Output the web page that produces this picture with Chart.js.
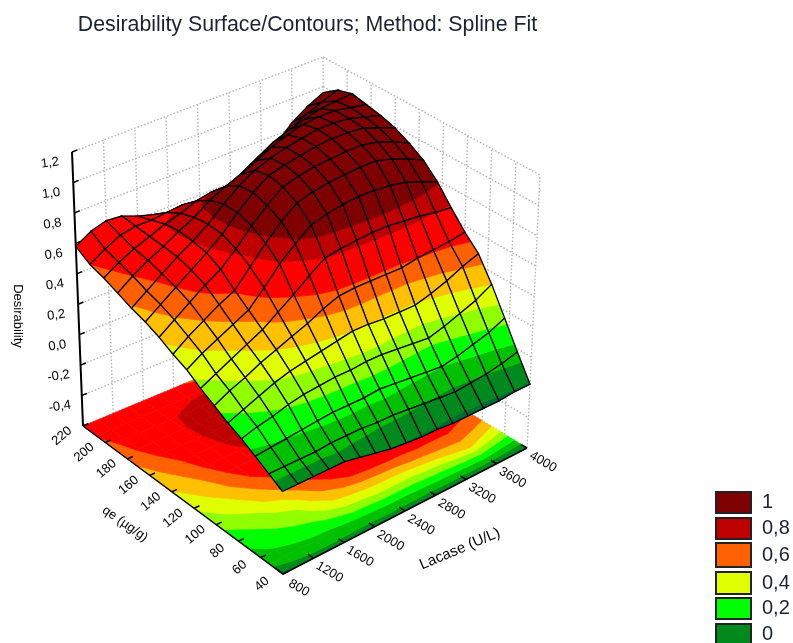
<!DOCTYPE html>
<html><head><meta charset="utf-8">
<style>html,body{margin:0;padding:0;background:#fff}canvas{display:block;filter:blur(0.4px)}</style>
<script src="https://cdn.jsdelivr.net/npm/chart.js@4"></script></head>
<body><canvas id="c" width="793" height="643"></canvas>
<script>
const titleText = 'Desirability Surface/Contours; Method: Spline Fit';
const xTitle = 'Lacase (U/L)', yTitle = 'qe (µg/g)', zTitle = 'Desirability';
const lacaseTicks = [800,1200,1600,2000,2400,2800,3200,3600,4000];
const qeTicks = [40,60,80,100,120,140,160,180,200,220];
const desirabilityTicks = [-0.6,-0.4,-0.2,0,0.2,0.4,0.6,0.8,1,1.2];
const lacaseGrid = [800,1000,1200,1400,1600,1800,2000,2200,2400,2600,2800,3000,3200,3400,3600,3800,4000];
const qeGrid = [40,52,64,76,88,100,112,124,136,148,160,172,184,196,208,220];
// one row per lacaseGrid value, one column per qeGrid value
const desirability = [
[-.10,-.05,.00,.05,.09,.14,.19,.25,.29,.34,.38,.41,.45,.49,.52,.58],
[-.10,-.05,.01,.08,.13,.19,.24,.31,.36,.41,.45,.48,.52,.55,.58,.64],
[-.10,-.05,.02,.10,.17,.23,.29,.36,.42,.48,.52,.55,.58,.60,.63,.67],
[-.10,-.05,.03,.13,.21,.28,.34,.41,.48,.55,.59,.62,.63,.64,.65,.66],
[-.10,-.04,.04,.15,.24,.32,.39,.46,.53,.61,.66,.68,.69,.68,.65,.62],
[-.12,-.04,.05,.16,.26,.36,.46,.56,.64,.70,.74,.75,.74,.71,.66,.59],
[-.14,-.04,.05,.17,.28,.40,.53,.67,.75,.81,.84,.84,.81,.75,.67,.55],
[-.16,-.05,.05,.17,.30,.45,.61,.76,.85,.90,.93,.92,.86,.77,.65,.51],
[-.17,-.05,.06,.18,.32,.49,.68,.84,.93,.98,1.0,.98,.90,.77,.62,.48],
[-.18,-.06,.05,.18,.32,.50,.70,.87,.96,1.01,1.03,1.02,.95,.82,.66,.50],
[-.18,-.07,.04,.17,.31,.50,.71,.89,.98,1.03,1.05,1.05,1.0,.88,.73,.55],
[-.19,-.08,.03,.16,.31,.50,.72,.90,.99,1.04,1.07,1.07,1.04,.94,.79,.61],
[-.19,-.09,.02,.15,.31,.50,.72,.90,1.0,1.05,1.08,1.09,1.07,.98,.84,.68],
[-.19,-.08,.04,.18,.34,.52,.71,.89,1.0,1.05,1.08,1.09,1.08,1.01,.89,.75],
[-.19,-.07,.07,.22,.38,.53,.70,.87,.97,1.03,1.07,1.08,1.08,1.04,.95,.84],
[-.18,-.05,.10,.26,.43,.54,.68,.83,.93,.99,1.03,1.05,1.06,1.05,.99,.91],
[-.18,-.02,.15,.32,.47,.56,.67,.79,.88,.94,.99,1.02,1.04,1.06,1.03,.96]
];
// contour map as read on the floor of the cube
const contourValues = [
[-.10,-.06,-.01,.04,.09,.15,.20,.25,.30,.34,.38,.42,.46,.49,.53,.60],
[-.10,-.04,.03,.08,.13,.20,.26,.31,.36,.40,.45,.49,.53,.56,.60,.65],
[-.10,-.02,.055,.115,.175,.24,.31,.375,.42,.47,.51,.56,.60,.63,.66,.68],
[-.10,-.01,.08,.15,.22,.31,.38,.45,.50,.55,.59,.62,.64,.66,.67,.66],
[-.10,-.01,.10,.18,.26,.37,.45,.52,.58,.62,.645,.66,.67,.67,.65,.62],
[-.11,.00,.14,.27,.35,.44,.51,.58,.63,.67,.69,.71,.71,.69,.65,.59],
[-.12,.01,.19,.33,.43,.51,.57,.62,.66,.69,.72,.75,.75,.72,.66,.55],
[-.12,.02,.20,.36,.49,.57,.64,.70,.76,.80,.83,.82,.80,.75,.66,.50],
[-.13,.03,.22,.38,.53,.62,.70,.78,.85,.90,.92,.90,.85,.77,.62,.48],
[-.13,.03,.22,.39,.55,.64,.72,.82,.90,.95,.98,.97,.92,.82,.66,.50],
[-.14,.04,.22,.40,.56,.65,.72,.85,.95,1.0,1.05,1.03,1.0,.88,.73,.55],
[-.14,.05,.24,.42,.56,.65,.74,.87,.97,1.02,1.07,1.07,1.04,.94,.79,.61],
[-.15,.06,.26,.44,.57,.66,.75,.88,.98,1.04,1.08,1.09,1.07,.98,.84,.68],
[-.15,.07,.30,.45,.56,.66,.74,.87,.98,1.05,1.08,1.09,1.08,1.01,.89,.75],
[-.16,.08,.33,.46,.56,.65,.72,.85,.96,1.03,1.07,1.08,1.07,1.02,.93,.82],
[-.16,.05,.28,.42,.52,.62,.70,.82,.92,.99,1.03,1.04,1.03,1.01,.96,.89],
[-.17,.03,.22,.38,.49,.60,.67,.79,.88,.94,.99,1.0,1.0,1.0,.98,.94]
];
const bandLimits = [-.17,-.07,.02,.12,.22,.32,.42,.52,.68,.78];
const bandColors = ['#006a33','#008a1e','#00c000','#00ff00','#90ff00','#e0ff00','#ffc000','#ff6000','#ff0000','#bf0000','#7f0000'];
const legendLabels = ['1','0,8','0,6','0,4','0,2','0'];
const legendColors = ['#7f0000','#bf0000','#ff6000','#e0ff00','#00ff00','#008a1e'];

// view of the cube: pixel position of its 8 corners
const view = {
  A:[83,426],B:[283,574],C:[527,448],D:[325,325],
  At:[72,152],Bt:[281,277],Ct:[540,175],Dt:[323,57]
};
const xMin=800,xMax=4000,yMin=40,yMax=220,zMin=-.6,zMax=1.2;
function project(X,Y,Z){
  const u=(X-xMin)/(xMax-xMin),v=(Y-yMin)/(yMax-yMin),w=(Z-zMin)/(zMax-zMin);
  const mix=(k)=>{
    const f=(1-u)*(1-v)*view.B[k]+u*(1-v)*view.C[k]+(1-u)*v*view.A[k]+u*v*view.D[k];
    const t=(1-u)*(1-v)*view.Bt[k]+u*(1-v)*view.Ct[k]+(1-u)*v*view.At[k]+u*v*view.Dt[k];
    return f+(t-f)*w;
  };
  return {x:mix(0),y:mix(1)};
}
function clipZ(poly,level,keepAbove){
  const out=[];
  for(let i=0;i<poly.length;i++){
    const a=poly[i],b=poly[(i+1)%poly.length];
    const ia=keepAbove?a[2]>=level:a[2]<=level, ib=keepAbove?b[2]>=level:b[2]<=level;
    if(ia)out.push(a);
    if(ia!==ib){const t=(level-a[2])/(b[2]-a[2]);out.push([a[0]+(b[0]-a[0])*t,a[1]+(b[1]-a[1])*t,level]);}
  }
  return out;
}
function cellBands(table,i,j){
  const poly=[[lacaseGrid[i],qeGrid[j],table[i][j]],[lacaseGrid[i+1],qeGrid[j],table[i+1][j]],
    [lacaseGrid[i+1],qeGrid[j+1],table[i+1][j+1]],[lacaseGrid[i],qeGrid[j+1],table[i][j+1]]];
  const res=[];
  for(let b=0;b<bandColors.length;b++){
    let p=poly;
    if(b>0)p=clipZ(p,bandLimits[b-1],true);
    if(p.length&&b<bandLimits.length)p=clipZ(p,bandLimits[b],false);
    if(p.length>=3)res.push({b,p});
  }
  return res;
}
const painter=[];
function lineSet(pts,color,width,dash){
  painter.push({data:pts,showLine:true,fill:false,borderColor:color,borderWidth:width,borderDash:dash||[],pointRadius:0,tension:0,borderCapStyle:'butt'});
}
function fillSet(pts,color){
  painter.push({data:pts,showLine:true,fill:'shape',backgroundColor:color,borderColor:color,borderWidth:.7,pointRadius:0,tension:0});
}
// back walls: dotted grid
const gridColor='#b4b4b4',dots=[1.5,2];
desirabilityTicks.forEach(z=>{
  lineSet([project(xMin,yMax,z),project(xMax,yMax,z)],gridColor,1.4,dots);
  lineSet([project(xMax,yMax,z),project(xMax,yMin,z)],gridColor,1.4,dots);
});
lacaseTicks.slice(1,-1).concat([xMax]).forEach(x=>lineSet([project(x,yMax,zMin),project(x,yMax,zMax)],gridColor,1.4,dots));
qeTicks.slice(0,-1).forEach(y=>lineSet([project(xMax,y,zMin),project(xMax,y,zMax)],gridColor,1.4,dots));
// floor contours, one data set per band
const floorBands=bandColors.map(()=>[]);
for(let i=0;i<lacaseGrid.length-1;i++)for(let j=0;j<qeGrid.length-1;j++){
  cellBands(contourValues,i,j).forEach(({b,p})=>{
    p.forEach(q=>floorBands[b].push(project(q[0],q[1],zMin)));
    floorBands[b].push(project(p[0][0],p[0][1],zMin));
    floorBands[b].push({x:null,y:null});
  });
}
floorBands.forEach((pts,b)=>{if(pts.length)fillSet(pts,bandColors[b]);});
// axes on the floor and the vertical axis
lineSet([project(xMin,yMax,zMin),project(xMin,yMin,zMin),project(xMax,yMin,zMin)],'#000',1.5);
lineSet([project(xMin,yMax,zMin),project(xMin,yMax,zMax)],'#000',2);
desirabilityTicks.forEach(z=>lineSet([project(xMin,yMax,z),project(xMin+70,yMax,z)],'#000',1.5));
qeTicks.forEach(y=>lineSet([project(xMin,y,zMin),project(xMin+70,y,zMin)],'#000',1.5));
lacaseTicks.forEach(x=>lineSet([project(x,yMin,zMin),project(x,yMin+5,zMin)],'#000',1.5));
// surface, painted from the far corner to the near corner
for(let i=lacaseGrid.length-2;i>=0;i--)for(let j=qeGrid.length-2;j>=0;j--){
  cellBands(desirability,i,j).forEach(({b,p})=>{
    const pts=p.map(q=>project(q[0],q[1],q[2]));
    pts.push(pts[0]);
    fillSet(pts,bandColors[b]);
  });
  lineSet([project(lacaseGrid[i],qeGrid[j],desirability[i][j]),project(lacaseGrid[i+1],qeGrid[j],desirability[i+1][j]),
    project(lacaseGrid[i+1],qeGrid[j+1],desirability[i+1][j+1]),project(lacaseGrid[i],qeGrid[j+1],desirability[i][j+1]),
    project(lacaseGrid[i],qeGrid[j],desirability[i][j])],'#000',1.3);
}
const textPlugin={id:'cubeText',afterDraw(chart){
  const c=chart.ctx,sx=chart.scales.x,sy=chart.scales.y;
  const put=(txt,px,py,rot,font,color,align)=>{
    c.save();c.translate(px,py);c.rotate(rot*Math.PI/180);c.font=font;c.fillStyle=color||'#000';
    c.textAlign=align||'center';c.textBaseline='middle';c.fillText(txt,0,0);c.restore();
  };
  const tickFont='13px "Liberation Sans"';
  const at=(p,dx,dy)=>[sx.getPixelForValue(p.x)+dx,sy.getPixelForValue(p.y)+dy];
  desirabilityTicks.slice(1).forEach(z=>{
    const [a,b]=at(project(xMin,yMax,z),-22,11);put(String(z.toFixed(1)).replace('.',','),a,b,-8,tickFont);
  });
  qeTicks.forEach(y=>{const [a,b]=at(project(xMin,y,zMin),-21,10);put(String(y),a,b,-40,tickFont);});
  lacaseTicks.forEach(x=>{const [a,b]=at(project(x,yMin,zMin),16,14);put(String(x),a,b,30,tickFont);});
  put(titleText,307.5,25,0,'21.3px "Liberation Sans"','#1c2233');
  put(zTitle,18,316,90,tickFont);
  put(yTitle,125,524,35,tickFont);
  put(xTitle,460,549,-23,'15px "Liberation Sans"');
  const rows=[[492,513],[518,539],[543,567],[572,594],[598,619],[624,650]];
  legendLabels.forEach((t,k)=>{
    const [top,bot]=rows[k];
    c.fillStyle=legendColors[k];c.strokeStyle='#222';c.lineWidth=2;
    c.fillRect(sx.getPixelForValue(716),sy.getPixelForValue(top),35,bot-top);
    c.strokeRect(sx.getPixelForValue(716),sy.getPixelForValue(top),35,bot-top);
    put(t,762,(top+Math.min(bot,643))/2+(k===5?1:0),0,'20px "Liberation Sans"','#1c2233','left');
  });
}};
new Chart(document.getElementById('c'),{
  type:'scatter',
  data:{datasets:painter.slice().reverse()},
  options:{responsive:false,animation:false,events:[],
    layout:{padding:0},
    plugins:{legend:{display:false},tooltip:{enabled:false},title:{display:false}},
    scales:{x:{type:'linear',display:false,min:0,max:793},y:{type:'linear',display:false,min:0,max:643,reverse:true}}
  },
  plugins:[textPlugin]
});
</script></body></html>
